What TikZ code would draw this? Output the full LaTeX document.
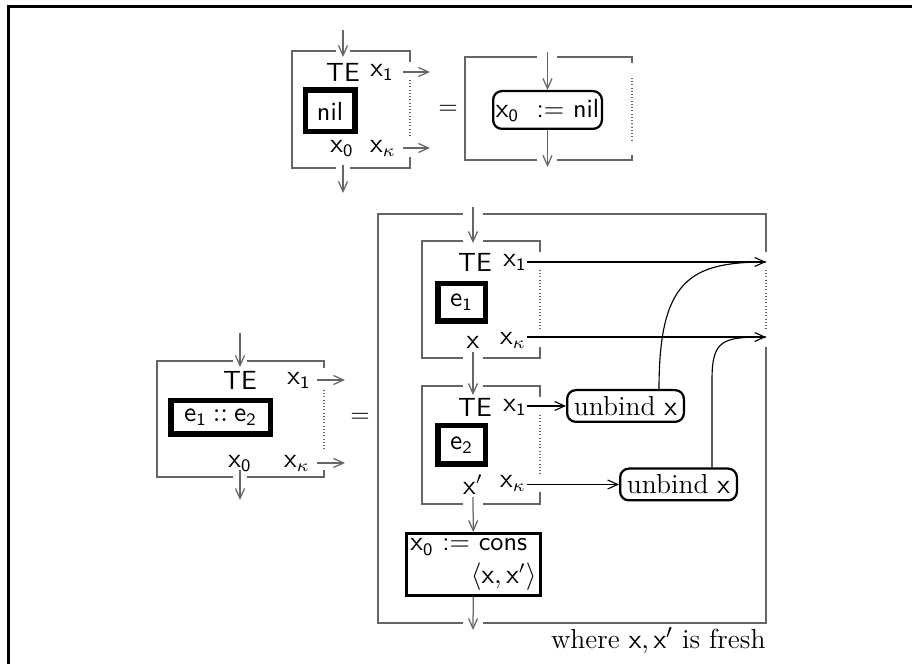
\documentclass[tikz,border=0pt]{standalone}
\usetikzlibrary{arrows.meta}
\begin{document}
\begin{tikzpicture}[x=0.4pt,y=-0.4pt,
  fr/.style={draw=black!60, line width=0.5pt},
  dots/.style={draw=black!60, line width=0.5pt, dash pattern=on 0.4pt off 0.9pt},
  garr/.style={draw=black!60, line width=0.5pt, -{Straight Barb[length=4pt,width=3.6pt]}},
  barr/.style={draw=black, line width=0.45pt, -{Straight Barb[length=4pt,width=3.6pt]}},
  lbl/.style={inner sep=0pt, font=\fontsize{10.5}{12}\sffamily},
  tbox/.style={draw, line width=2.2pt, inner sep=0pt, font=\fontsize{10.5}{12}\sffamily},
  rbox/.style={draw, line width=0.9pt, rounded corners=3.5pt, inner sep=0pt, font=\fontsize{11}{13}\selectfont},
  cbox/.style={draw, line width=1.2pt, inner sep=1.5pt, font=\fontsize{10.5}{13}\sffamily},
]
\useasboundingbox (0,0) rectangle (912,664);
% outer frame
\draw[line width=1.2pt] (8,664) -- (8,7) -- (912,7);

%%%%% Frame A (nil)
\draw[fr] (336,51) -- (292,51) -- (292,168) -- (336,168);
\draw[fr] (350,51) -- (410,51) -- (410,62);
\draw[fr] (350,168) -- (410,168) -- (410,157);
\draw[dots] (410,80) -- (410,138);
\node[lbl] (ATE) at (343,72) {TE};
\node[lbl] (Ax1) at (382,72) {$\mathsf{x_1}$};
\node[lbl] (Ax0) at (342,148) {$\mathsf{x_0}$};
\node[lbl] (Axk) at (383,148) {$\mathsf{x}_\kappa$};
\node[tbox, minimum width=19.8pt, minimum height=16.6pt] (nil) at (330,111) {nil};
\coordinate (Ain) at (343,30);
\coordinate (Aintip) at (343,57);
\coordinate (Aout) at (343,165);
\coordinate (Aouttip) at (343,193);
\coordinate (A1s) at (403,72);
\coordinate (A1e) at (430,72);
\coordinate (Aks) at (403,148);
\coordinate (Ake) at (430,148);
\draw[garr] (Ain) -- (Aintip);
\draw[garr] (Aout) -- (Aouttip);
\draw[garr] (A1s) -- (A1e);
\draw[garr] (Aks) -- (Ake);
\node (eqA) at (448,110) {$=$};

%%%%% Frame B
\draw[fr] (537,57) -- (465,57) -- (465,160) -- (537,160);
\draw[fr] (557,57) -- (632,57) -- (632,63);
\draw[fr] (557,160) -- (632,160) -- (632,155);
\draw[dots] (632,78) -- (632,140);
\node[rbox, minimum width=43.5pt, minimum height=15.1pt, font=\fontsize{10.5}{12}\sffamily] (Bnil) at (547.5,110)
  {$\mathsf{x_0}$\ \ \textsf{:= nil}};
\coordinate (Bin) at (547.5,52);
\coordinate (Bout) at (547.5,167);
\draw[garr] (Bin) -- (Bnil);
\draw[garr] (Bnil) -- (Bout);

%%%%% Frame C
\draw[fr] (233,361) -- (157,361) -- (157,477) -- (233,477);
\draw[fr] (247,361) -- (324,361) -- (324,368);
\draw[fr] (247,477) -- (324,477) -- (324,470);
\draw[dots] (324,390) -- (324,450);
\node[lbl] (CTE) at (240,380) {TE};
\node[lbl] (Cx1) at (299,380) {$\mathsf{x_1}$};
\node[lbl] (Cx0) at (240,463) {$\mathsf{x_0}$};
\node[lbl] (Cxk) at (297,463) {$\mathsf{x}_\kappa$};
\node[tbox, minimum width=39.8pt, minimum height=13.4pt] (cons0) at (220.5,417.5)
  {$\mathsf{e_1}\mathbin{::}\mathsf{e_2}$};
\coordinate (Cin) at (240,333);
\coordinate (Cintip) at (240,367);
\coordinate (Cout) at (240,470);
\coordinate (Couttip) at (240,500);
\coordinate (C1s) at (317,380);
\coordinate (C1e) at (345,380);
\coordinate (Cks) at (317,463);
\coordinate (Cke) at (345,463);
\draw[garr] (Cin) -- (Cintip);
\draw[garr] (Cout) -- (Couttip);
\draw[garr] (C1s) -- (C1e);
\draw[garr] (Cks) -- (Cke);
\node (eqC) at (360,418) {$=$};

%%%%% Big frame D
\draw[fr] (463,214) -- (378,214) -- (378,623) -- (463,623);
\draw[fr] (483,214) -- (766,214) -- (766,252);
\draw[fr] (483,623) -- (766,623) -- (766,347);
\draw[dots] (766,270) -- (766,330);
\coordinate (Din) at (473,207);
\coordinate (Dintip) at (473,243);
\draw[garr] (Din) -- (Dintip);

% inner box E1
\draw[fr] (463,241) -- (422,241) -- (422,358) -- (463,358);
\draw[fr] (483,241) -- (540,241) -- (540,252);
\draw[fr] (483,358) -- (540,358) -- (540,347);
\draw[dots] (540,270) -- (540,330);
\node[lbl] (E1TE) at (475,262) {TE};
\node[lbl] (E1x1) at (515,262) {$\mathsf{x_1}$};
\node[lbl] (E1x) at (473,342) {$\mathsf{x}$};
\node[lbl] (E1xk) at (513,340) {$\mathsf{x}_\kappa$};
\node[tbox, minimum width=19pt, minimum height=15pt] (e1) at (461.5,302.5) {$\mathsf{e_1}$};
\coordinate (E11s) at (527,262);
\coordinate (D1) at (766,262);
\coordinate (E1ks) at (527,337);
\coordinate (Dk) at (766,337);
\draw[barr] (E11s) -- (D1);
\draw[barr] (E1ks) -- (Dk);

% inner box E2
\draw[fr] (463,386) -- (422,386) -- (422,504) -- (463,504);
\draw[fr] (483,386) -- (540,386) -- (540,397);
\draw[fr] (483,504) -- (540,504) -- (540,492);
\draw[dots] (540,415) -- (540,475);
\node[lbl] (E2TE) at (475,407) {TE};
\node[lbl] (E2x1) at (515,407) {$\mathsf{x_1}$};
\node[lbl] (E2x) at (473,485) {$\mathsf{x}'$};
\node[lbl] (E2xk) at (513,483) {$\mathsf{x}_\kappa$};
\node[tbox, minimum width=19pt, minimum height=15.4pt] (e2) at (461.5,445) {$\mathsf{e_2}$};
\coordinate (E12s) at (473,352);
\coordinate (E12e) at (473,395);
\draw[garr] (E12s) -- (E12e);

% unbind boxes
\node[rbox, minimum width=46.7pt, minimum height=12.7pt] (ub1) at (625.5,406) {unbind $\mathsf{x}$};
\node[rbox, minimum width=46.7pt, minimum height=12.7pt] (ub2) at (678.5,484.5) {unbind $\mathsf{x}$};
\coordinate (E21s) at (527,406);
\coordinate (E2ks) at (527,484.5);
\draw[barr] (E21s) -- (ub1);
\draw[barr] (E2ks) -- (ub2);
\draw[line width=0.45pt] ([xshift=13.4pt]ub1.north) .. controls (659,280) and (690,262) .. (D1);
\draw[line width=0.45pt] ([xshift=13.4pt]ub2.north) -- (712,380) .. controls (712,340) and (722,337) .. (Dk);

% cons box
\node[cbox, text width=50.5pt, minimum height=24.8pt, align=left] (cons) at (473.5,564.5)
  {\mbox{$\mathsf{x_0}$\ := cons}\\\hspace*{\fill}$\langle\mathsf{x},\mathsf{x}'\rangle$};
\coordinate (E2out) at (473,497);
\coordinate (Dout) at (473,630);
\draw[garr] (E2out) -- (cons);
\draw[garr] (cons) -- (Dout);
\node[anchor=east, inner sep=0pt, font=\fontsize{11}{13}\selectfont] (fresh) at (766,641) {where $\mathsf{x},\mathsf{x}'$ is fresh};
\end{tikzpicture}
\end{document}
